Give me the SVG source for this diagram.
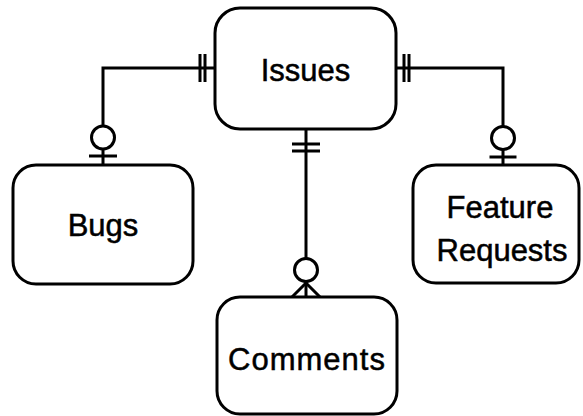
<svg xmlns="http://www.w3.org/2000/svg" width="583" height="416" viewBox="0 0 583 416">
<style>
.box{fill:#fff;stroke:#000;stroke-width:3}
.c{fill:none;stroke:#000;stroke-width:3}
.o{fill:#fff;stroke:#000;stroke-width:3}
.t{font-family:"Liberation Sans",Arial,sans-serif;font-size:31px;fill:#000;stroke:#000;stroke-width:0.5;text-anchor:middle}
</style>
<rect width="583" height="416" fill="#fff"/>
<g id="connectors">
<path class="c" d="M215 68H103V165"/>
<path class="c" d="M200 54V82M205 54V82"/>
<path class="c" d="M89 156H117"/>
<circle class="o" cx="103" cy="137.5" r="11.5"/>
<path class="c" d="M396 68H503V165"/>
<path class="c" d="M404 54V82M409 54V82"/>
<path class="c" d="M489.5 157H516.5"/>
<circle class="o" cx="503" cy="138" r="11.5"/>
<path class="c" d="M306 129V297"/>
<path class="c" d="M292 144H320M292 151H320"/>
<path class="c" d="M306 283L292 297M306 283L320 297"/>
<circle class="o" cx="306" cy="270" r="11.5"/>
</g>
<g id="issues"><rect class="box" x="215" y="8" width="181" height="121" rx="25"/><text class="t" x="305.5" y="81">Issues</text></g>
<g id="bugs"><rect class="box" x="13" y="165" width="180" height="119" rx="23"/><text class="t" x="103" y="236">Bugs</text></g>
<g id="feature"><rect class="box" x="413" y="165" width="166" height="118" rx="23"/><text class="t" x="500" y="218">Feature</text><text class="t" x="502" y="261">Requests</text></g>
<g id="comments"><rect class="box" x="217" y="297" width="180" height="117" rx="23"/><text class="t" x="307" y="370" letter-spacing="1">Comments</text></g>
</svg>
